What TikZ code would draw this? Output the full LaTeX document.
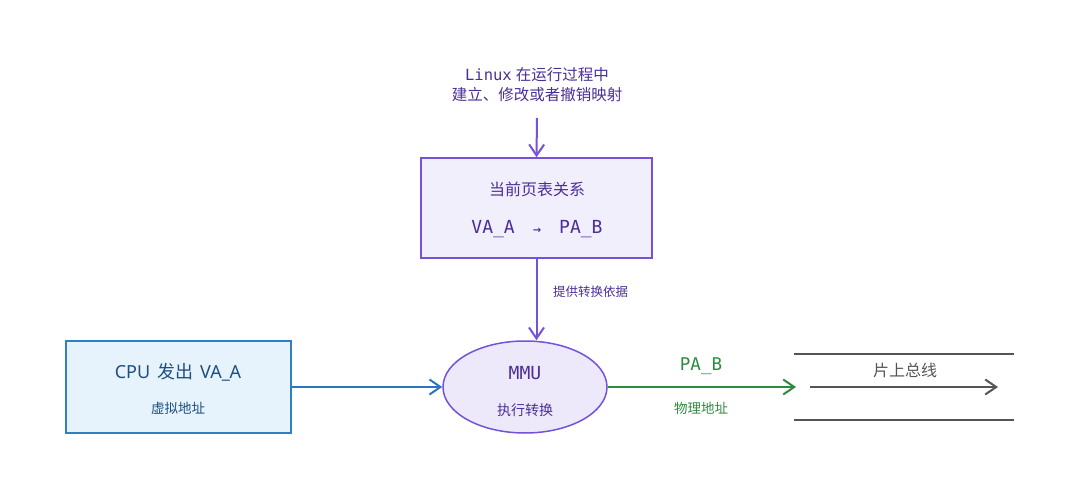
\documentclass[tikz,border=0pt]{standalone}
\usepackage{fontspec}
\setmainfont{Noto Sans}
\newfontfamily\cjk{Noto Sans CJK SC}
\newfontfamily\mono{DejaVu Sans Mono}
\newfontfamily\djv{DejaVu Sans}
\usetikzlibrary{arrows.meta,shapes.geometric}
\definecolor{purp}{HTML}{7452DB}
\definecolor{purptxt}{HTML}{4B2F96}
\definecolor{boxfill}{HTML}{F2EFFD}
\definecolor{ellfill}{HTML}{EDE9FB}
\definecolor{bluebd}{HTML}{2F7FC4}
\definecolor{bluefill}{HTML}{E7F3FC}
\definecolor{bluetxt}{HTML}{1D4F80}
\definecolor{bluearr}{HTML}{2C74C0}
\definecolor{grn}{HTML}{2E8B3E}
\definecolor{gry}{HTML}{555555}
\tikzset{
  tip/.style={-{Straight Barb[length=11pt,width=15pt,line width=2pt]}},
  conn/.style={tip,line width=2pt},
  lbl/.style={inner sep=0pt,align=center},
}
\begin{document}
\begin{tikzpicture}[x=1pt,y=-1pt]
\useasboundingbox (0,0) rectangle (1080,500);
% top label
\node[lbl,text=purptxt,font=\fontsize{15.5}{20}\selectfont] (top) at (537,85)
  {{\mono Linux} {\cjk 在运行过程中}\\{\cjk 建立、修改或者撤销映射}};
\coordinate (topa) at (537,118);
% page table box
\node[draw=purp,line width=1.5pt,fill=boxfill,minimum width=231pt,minimum height=100pt,inner sep=0pt] (pt) at (536.5,208) {};
\node[lbl,text=purptxt,font=\cjk\fontsize{16}{18}\selectfont] (ptt) at (537,189) {当前页表关系};
\node[lbl,text=purptxt,font=\mono\fontsize{18}{20}\selectfont] (ptm) at (537,229) {VA\_A\hspace{18pt}{\djv\bfseries\fontsize{10}{10}\selectfont →}\hspace{18pt}PA\_B};
% MMU ellipse
\node[ellipse,draw=purp,line width=1.5pt,fill=ellfill,minimum width=164pt,minimum height=92pt,inner sep=0pt] (mmu) at (525,387) {};
\node[lbl,text=purptxt,font=\mono\fontsize{18}{20}\selectfont] (mmut) at (525,373) {MMU};
\node[lbl,text=purptxt,font=\cjk\fontsize{14}{16}\selectfont] (mmus) at (525,410) {执行转换};
% CPU box
\node[draw=bluebd,line width=1.5pt,fill=bluefill,minimum width=225pt,minimum height=92pt,inner sep=0pt] (cpu) at (178.5,387) {};
\node[lbl,text=bluetxt,font=\fontsize{18}{20}\selectfont] (cput) at (178,372) {CPU\hspace{7pt}{\cjk 发出}\hspace{7pt}VA\_A};
\node[lbl,text=bluetxt,font=\cjk\fontsize{13.5}{15}\selectfont] (cpus) at (178,408) {虚拟地址};
% bus
\coordinate (b1l) at (794,354); \coordinate (b1r) at (1014,354);
\coordinate (b2l) at (794,420); \coordinate (b2r) at (1014,420);
\coordinate (bal) at (810,387); \coordinate (bar) at (998,387);
\coordinate (busin) at (796,387);
\draw[gry,line width=1.6pt] (b1l) -- (b1r);
\draw[gry,line width=1.6pt] (b2l) -- (b2r);
\draw[gry,conn] (bal) -- (bar);
\node[lbl,text=gry,font=\cjk\fontsize{16}{18}\selectfont] (bust) at (905,370) {片上总线};
% connectors
\draw[purp,conn] (topa) -- (pt.north);
\draw[purp,conn] (pt.south) -- (pt.south |- mmu.north);
\node[lbl,anchor=west,text=purptxt,font=\cjk\fontsize{12.5}{14}\selectfont] (l1) at (553,292) {提供转换依据};
\draw[bluearr,conn] (cpu.east) -- (mmu.west);
\draw[grn,conn] (mmu.east) -- (busin);
\node[lbl,text=grn,font=\mono\fontsize{17.5}{20}\selectfont] (l2) at (701,366) {PA\_B};
\node[lbl,text=grn,font=\cjk\fontsize{13.5}{15}\selectfont] (l3) at (701,408) {物理地址};
\end{tikzpicture}
\end{document}
